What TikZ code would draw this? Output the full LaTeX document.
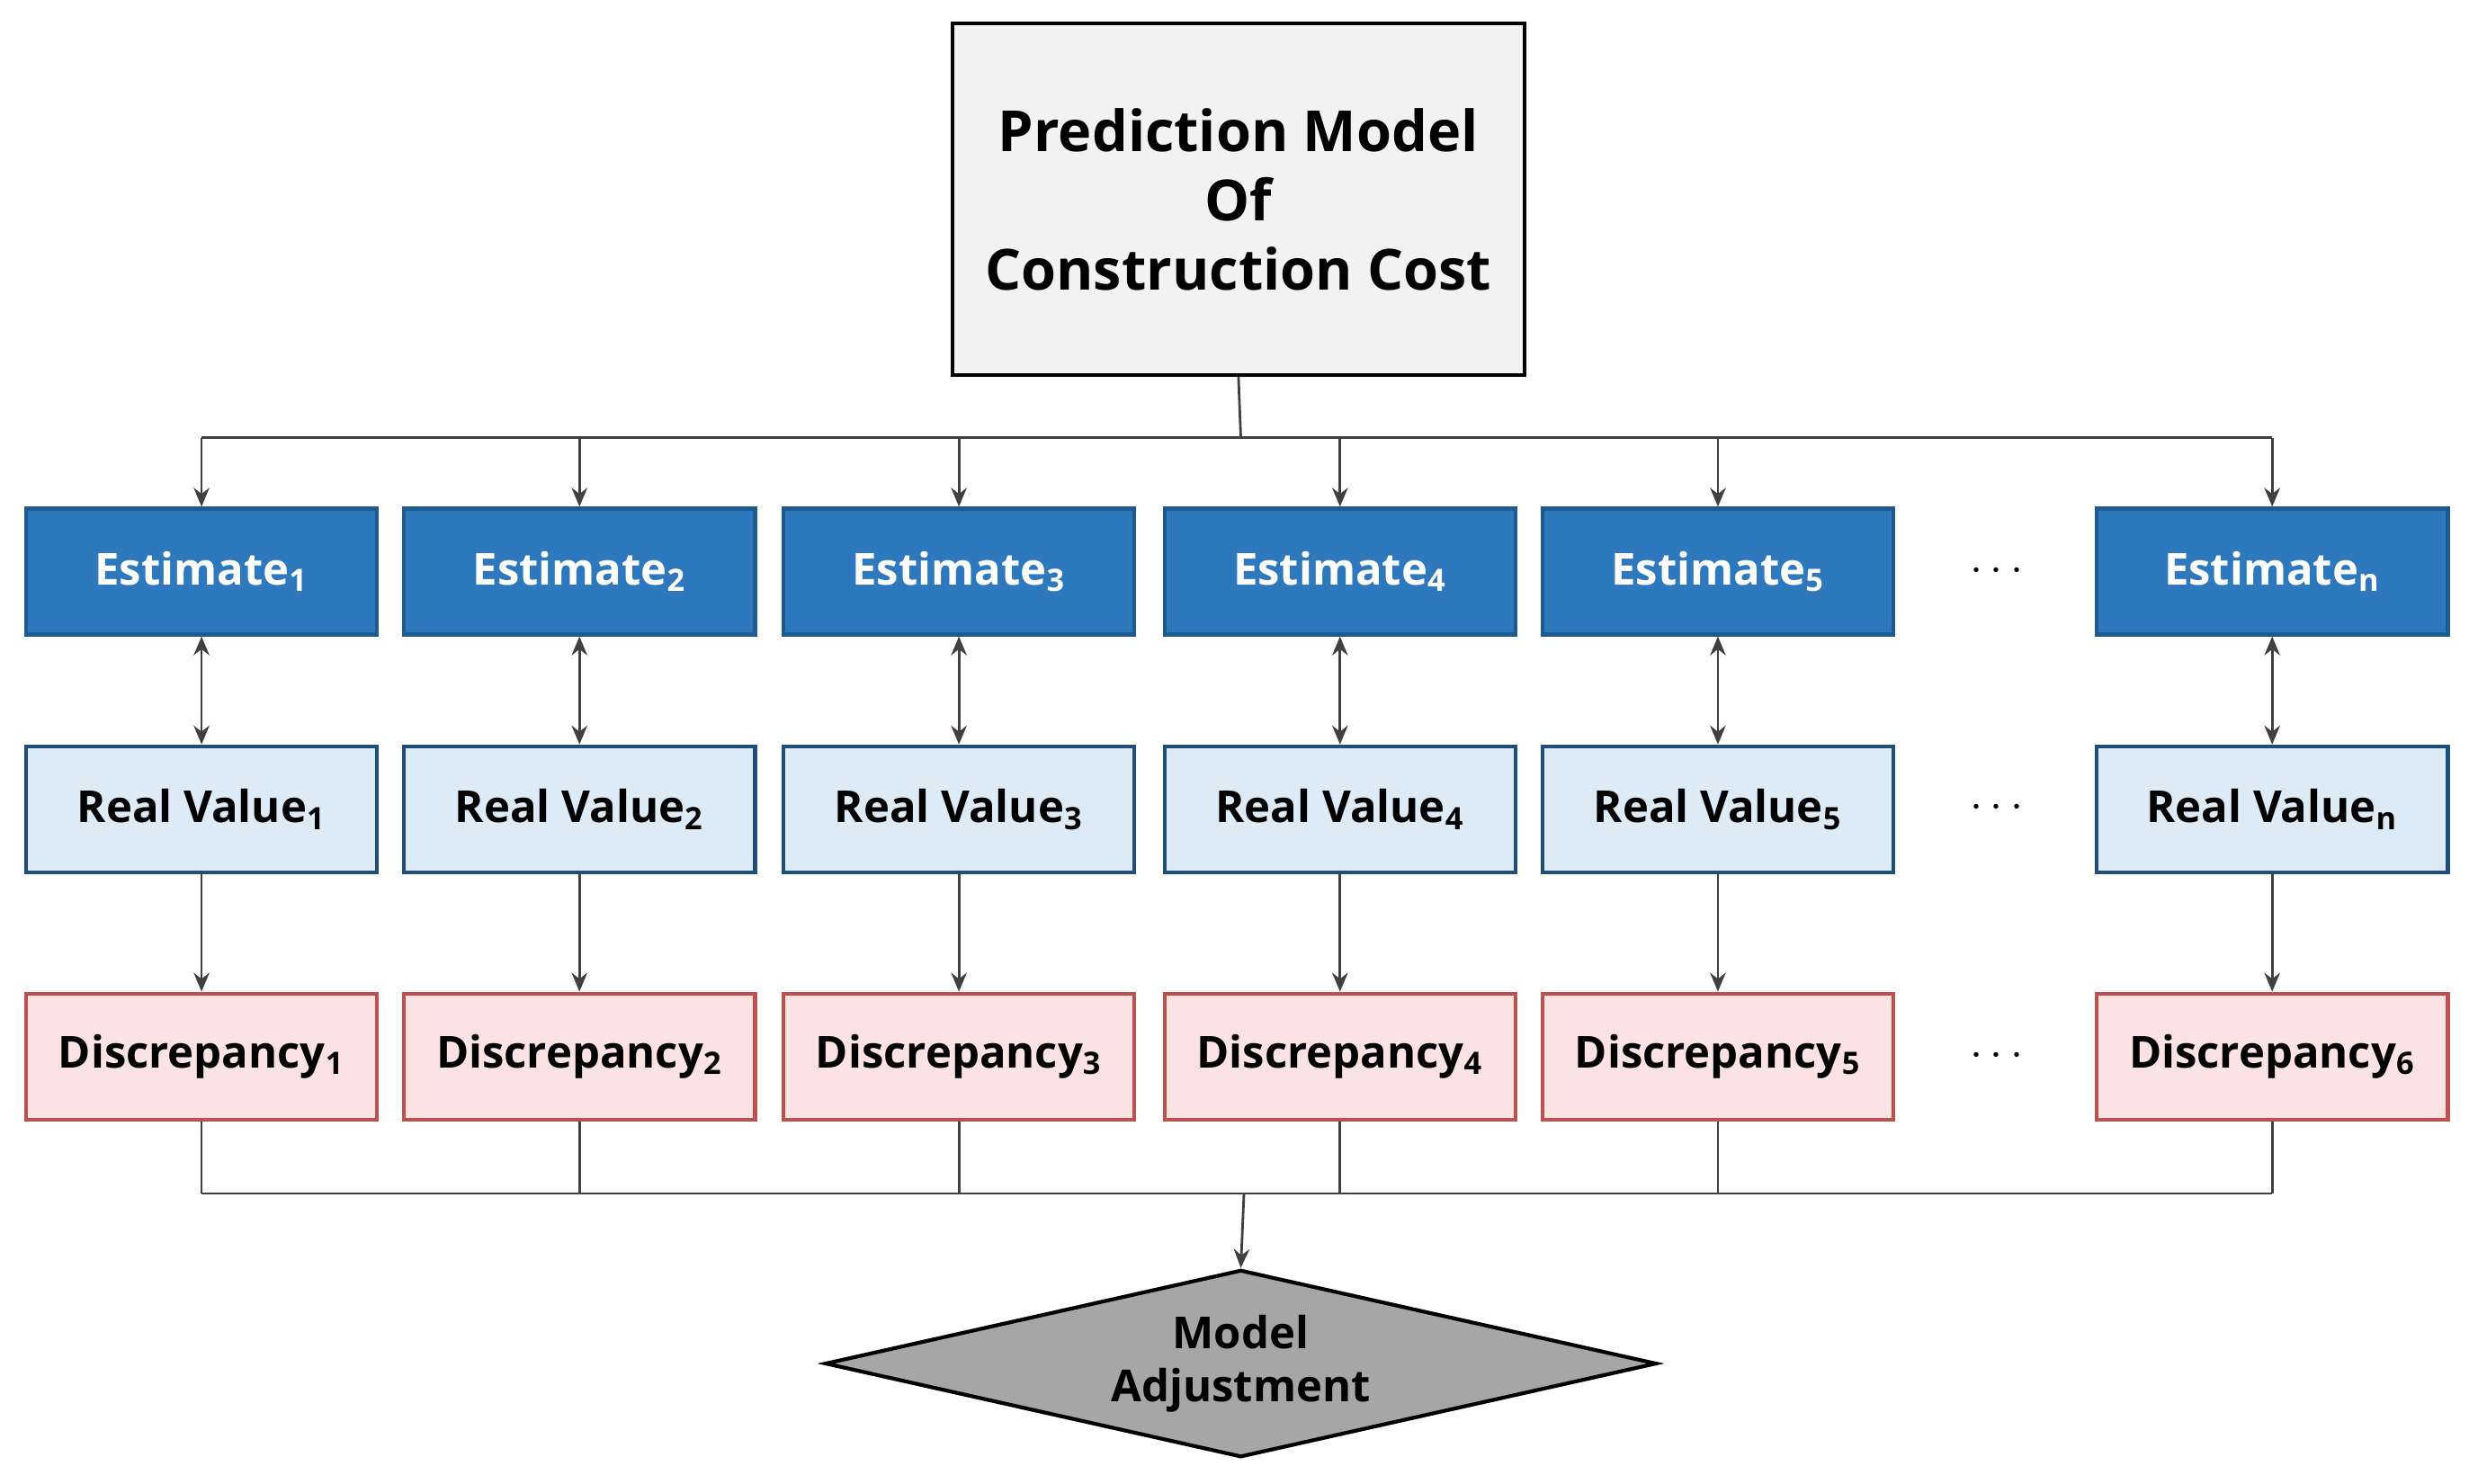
\documentclass[tikz,border=0pt]{standalone}
\usepackage{fontspec}
\setmainfont{Open Sans}
\usetikzlibrary{shapes.geometric,arrows.meta}
\definecolor{estF}{HTML}{2E79BE}
\definecolor{estD}{HTML}{1F5A8F}
\definecolor{realF}{HTML}{DDEBF7}
\definecolor{realD}{HTML}{1F4E79}
\definecolor{disF}{HTML}{FBE3E3}
\definecolor{disD}{HTML}{C0504D}
\begin{document}
\begin{tikzpicture}[x=0.5pt,y=-0.5pt,
  box/.style={draw,line width=1.2pt,minimum width=111.5pt,minimum height=40pt,inner sep=0pt,font=\fontsize{14}{16}\bfseries\selectfont},
  est/.style={box,fill=estF,draw=estD,text=white},
  real/.style={box,fill=realF,draw=realD},
  dis/.style={box,fill=disF,draw=disD},
  arr/.style={-{Stealth[length=6pt,width=5pt]},line width=0.8pt,draw=black!75},
  ln/.style={line width=0.8pt,draw=black!75},
  dots/.style={font=\fontsize{14}{16}\bfseries\selectfont}]
\useasboundingbox (0,0) rectangle (1568,942);
\node[draw,line width=1.2pt,fill=black!5,minimum width=181.5pt,minimum height=111.5pt,align=center,font=\fontsize{18}{22}\bfseries\selectfont] (top) at (786.5,126.5) {Prediction Model\\Of\\Construction Cost};
\coordinate (bt) at (788,278);
\draw[ln] (top.south) -- (bt);
\draw[ln] (128,278) -- (1443,278);
\foreach \x/\i/\s in {128/1/1,368/2/2,609/3/3,851/4/4,1091/5/5,1443/n/6}{
  \node[est] (e\i) at (\x,363) {Estimate$_{\mathbf{\i}}$};
  \node[real] (r\i) at (\x,514) {Real Value$_{\mathbf{\i}}$};
  \node[dis] (d\i) at (\x,671) {Discrepancy$_{\mathbf{\s}}$};
  \coordinate (u\i) at (\x,278);
  \coordinate (b\i) at (\x,758);
  \draw[arr] (u\i) -- (e\i.north);
  \draw[arr,{Stealth[length=6pt,width=5pt]}-{Stealth[length=6pt,width=5pt]}] (e\i.south) -- (r\i.north);
  \draw[arr] (r\i.south) -- (d\i.north);
  \draw[ln] (d\i.south) -- (b\i);
}
\draw[ln] (128,758) -- (1443,758);
\node[dots] (k1) at (1268,363) {$\cdots$};
\node[dots] (k2) at (1268,513) {$\cdots$};
\node[dots] (k3) at (1268,671) {$\cdots$};
\node[diamond,draw,line width=1.2pt,fill=black!35,aspect=4.4,minimum width=264pt,minimum height=59.5pt,inner sep=0pt,align=center,font=\fontsize{14}{17}\bfseries\selectfont] (m) at (788,866) {Model\\Adjustment};
\coordinate (bm) at (790,758);
\draw[arr] (bm) -- (m.north);
\end{tikzpicture}
\end{document}
